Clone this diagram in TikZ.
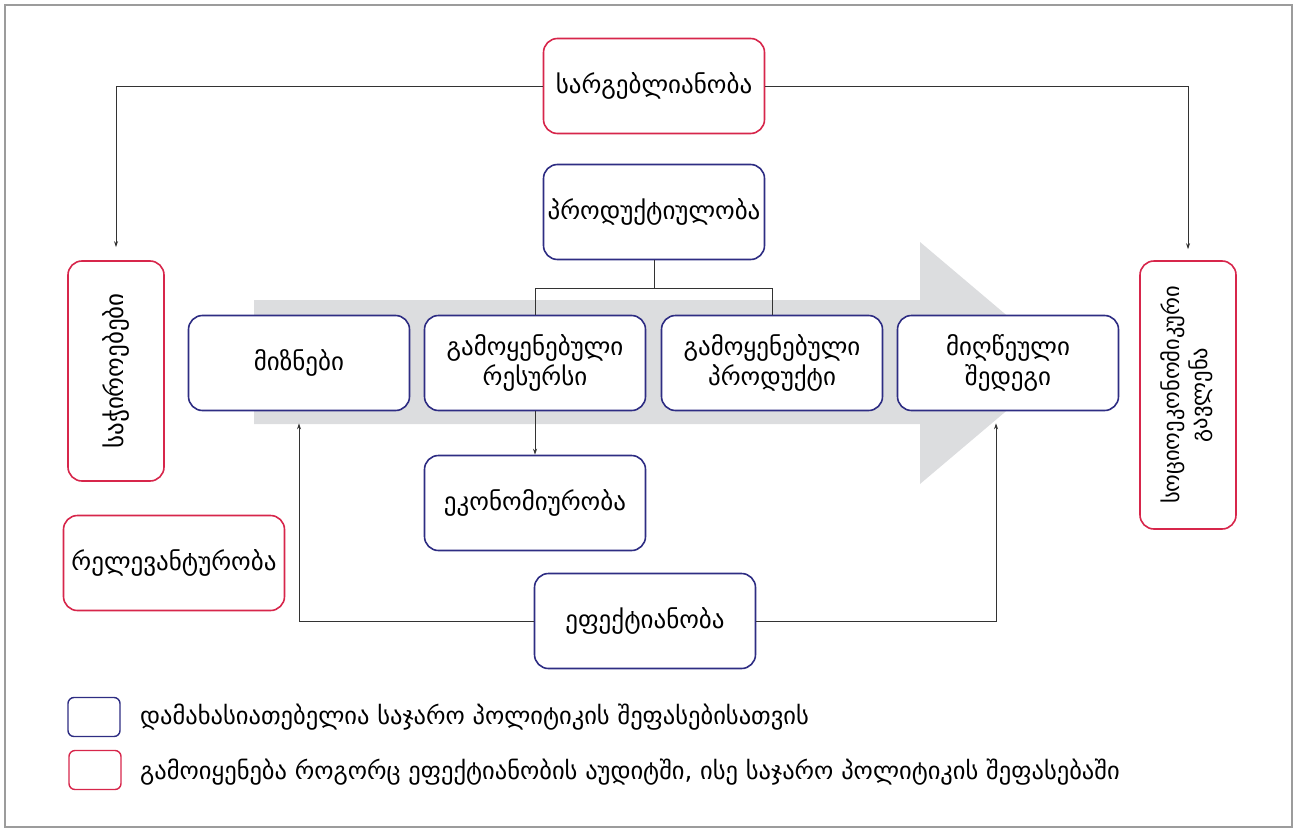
\documentclass[tikz,border=0pt]{standalone}
\usepackage{fontspec}
\setmainfont{DejaVu Sans}
\usetikzlibrary{arrows.meta}
\definecolor{navy}{HTML}{2E2D83}
\definecolor{crimson}{HTML}{D7264B}
\definecolor{band}{HTML}{DCDDDF}
\definecolor{framegray}{HTML}{9C9C9C}
\definecolor{wire}{HTML}{333333}
\tikzset{
  card/.style={draw, line width=1.6pt, rounded corners=14pt, fill=white,
    inner sep=0pt, align=center, font=\fontsize{25}{30}\selectfont},
  bluecard/.style={card, draw=navy, minimum width=221pt, minimum height=95pt},
  redcard/.style={card, draw=crimson, minimum width=221pt, minimum height=95pt},
  tallcard/.style={card, draw=crimson, minimum width=96pt},
  keybox/.style={draw, line width=1.4pt, rounded corners=6pt, minimum width=52pt,
    minimum height=39pt, inner sep=0pt},
  keytext/.style={anchor=west, inner sep=0pt, font=\fontsize{24.5}{29}\selectfont},
  wireline/.style={draw=wire, line width=0.8pt},
  wirearrow/.style={wireline, -{Stealth[length=6pt,width=4pt]}},
}
\begin{document}
\begin{tikzpicture}[x=1pt,y=-1pt]
\useasboundingbox (0,0) rectangle (1297,832);
% outer frame
\draw[framegray, line width=2pt] (5,5) rectangle (1292,827);

% broad process arrow in the background
\fill[band] (254,300) -- (920,300) -- (920,242) -- (1063,363) -- (920,484)
  -- (920,424) -- (254,424) -- cycle;

% boxes
\node[redcard]  (usef)   at (654,86)  {სარგებლიანობა};
\node[bluecard] (prod)   at (654,212) {პროდუქტიულობა};
\node[bluecard] (goals)  at (299,363) {მიზნები};
\node[bluecard] (res)    at (535,363) {გამოყენებული\\რესურსი};
\node[bluecard] (outp)   at (772,363) {გამოყენებული\\პროდუქტი};
\node[bluecard] (result) at (1008,363) {მიღწეული\\შედეგი};
\node[bluecard] (eco)    at (535,503) {ეკონომიურობა};
\node[bluecard] (eff)    at (645,621) {ეფექტიანობა};
\node[redcard]  (relev)  at (174,563) {რელევანტურობა};
\node[tallcard, minimum height=220pt] (need) at (116,371)
  {\rotatebox{90}{საჭიროებები}};
\node[tallcard, minimum height=268pt] (impact) at (1188,395)
  {\rotatebox{90}{\fontsize{22.5}{28}\selectfont\begin{tabular}{@{}c@{}}სოციოეკონომიკური\\გავლენა\end{tabular}}};

% connectors
\draw[wirearrow, shorten >=13pt] (usef.west) -| (need.north);
\draw[wirearrow, shorten >=11pt] (usef.east) -| (impact.north);
\coordinate (fork) at ([yshift=-28pt]prod.south);
\draw[wireline] (prod.south) -- (fork);
\draw[wireline] (fork) -| (res.north);
\draw[wireline] (fork) -| (outp.north);
\draw[wirearrow] (res.south) -- (eco.north);
\draw[wirearrow, shorten >=12pt] (eff.west) -| (goals.south);
\coordinate (resultfoot) at ([xshift=-12pt]result.south);
\draw[wirearrow, shorten >=12pt] (eff.east) -| (resultfoot);

% key
\node[keybox, draw=navy] (keyblue) at (94,717) {};
\node[keybox, draw=crimson] (keyred) at (95,770) {};
\node[keytext] (keybluetext) at (140,717) {დამახასიათებელია საჯარო პოლიტიკის შეფასებისათვის};
\node[keytext] (keyredtext) at (140,772) {გამოიყენება როგორც ეფექტიანობის აუდიტში, ისე საჯარო პოლიტიკის შეფასებაში};
\end{tikzpicture}
\end{document}
